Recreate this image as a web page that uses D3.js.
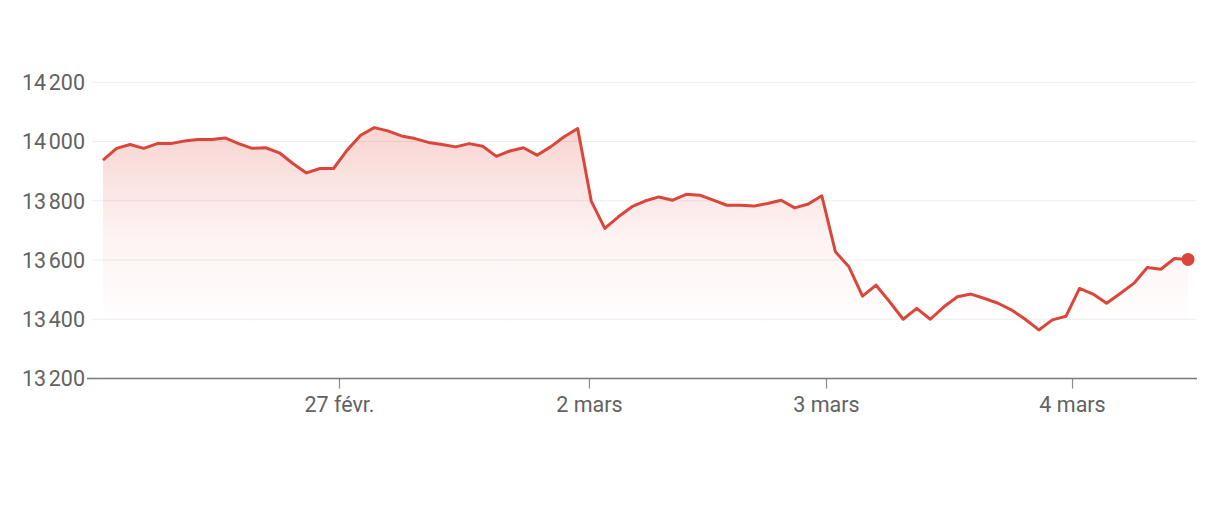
<!DOCTYPE html>
<html>
<head>
<meta charset="utf-8">
<script src="https://cdn.jsdelivr.net/npm/d3@7"></script>
<style>
  html, body { margin: 0; padding: 0; background: #fff; }
  svg { display: block; }
  text { font-family: Roboto, "Noto Sans", sans-serif; }
</style>
</head>
<body>
<svg id="chart" width="1225" height="517"></svg>
<script>
// Price series (one value per sample point)
const values = [
  13937, 13977, 13990, 13977, 13993, 13993, 14002, 14007, 14007, 14012,
  13993, 13977, 13979, 13962, 13926, 13894, 13909, 13909, 13971, 14021,
  14047, 14036, 14019, 14010, 13997, 13990, 13982, 13993, 13984, 13950,
  13968, 13979, 13954, 13982, 14016, 14044, 13799, 13707, 13746, 13780,
  13800, 13813, 13802, 13822, 13819, 13802, 13785, 13785, 13782, 13791,
  13802, 13776, 13789, 13817, 13628, 13577, 13478, 13515, 13459, 13400,
  13437, 13400, 13442, 13476, 13485, 13470, 13454, 13431, 13400, 13364,
  13398, 13410, 13504, 13485, 13454, 13487, 13521, 13575, 13569, 13605,
  13602
];
// Y axis
const yTicks = [13200, 13400, 13600, 13800, 14000, 14200];
const yDomain = [13200, 14200];
// X axis day boundaries (position in sample index) and labels
const xTickPos = [17.4, 35.83, 53.31, 71.45];
const xTickLabels = ["27 févr.", "2 mars", "3 mars", "4 mars"];

const svg = d3.select("#chart");
const lineColor = "#da463a";

const x = d3.scaleLinear().domain([0, values.length - 1]).range([103, 1188]);
const y = d3.scaleLinear().domain(yDomain).range([378.5, 82.3]);

const fmt = v => d3.format(",")(v).replace(",", "\u202F");

// gridlines
svg.append("g")
  .selectAll("line")
  .data(yTicks.filter(t => t !== yDomain[0]))
  .join("line")
  .attr("x1", 92).attr("x2", 1196)
  .attr("y1", d => y(d)).attr("y2", d => y(d))
  .attr("stroke", "#eeeeee").attr("stroke-width", 1);

// gradient
const defs = svg.append("defs");
const grad = defs.append("linearGradient")
  .attr("id", "fillGrad")
  .attr("gradientUnits", "userSpaceOnUse")
  .attr("x1", 0).attr("x2", 0)
  .attr("y1", y(14060)).attr("y2", y(13370));
grad.append("stop").attr("offset", 0).attr("stop-color", "#e2574a").attr("stop-opacity", 0.26);
grad.append("stop").attr("offset", 0.55).attr("stop-color", "#e2574a").attr("stop-opacity", 0.07);
grad.append("stop").attr("offset", 1).attr("stop-color", "#e2574a").attr("stop-opacity", 0);

const idx = d3.range(values.length);

svg.append("path")
  .datum(idx)
  .attr("fill", "url(#fillGrad)")
  .attr("d", d3.area().x(i => x(i)).y0(y(yDomain[0])).y1(i => y(values[i])));

// y labels
svg.append("g")
  .selectAll("text")
  .data(yTicks)
  .join("text")
  .attr("x", 85)
  .attr("y", d => y(d))
  .attr("dy", "0.36em")
  .attr("text-anchor", "end")
  .attr("font-size", 21.5)
  .attr("fill", "#626262")
  .text(fmt);

// x axis
const xAxis = d3.axisBottom(x)
  .tickValues(xTickPos)
  .tickFormat((d, i) => xTickLabels[i])
  .tickSize(10)
  .tickPadding(8);
const gx = svg.append("g")
  .attr("transform", `translate(0,${y(yDomain[0])})`)
  .call(xAxis);
gx.select(".domain").remove();
gx.selectAll(".tick line").attr("stroke", "#8a8a8a").attr("stroke-width", 1.2);
gx.selectAll(".tick text")
  .attr("font-size", 21.5)
  .attr("font-family", "Roboto, 'Noto Sans', sans-serif")
  .attr("fill", "#626262");
gx.append("line")
  .attr("x1", 87).attr("x2", 1197)
  .attr("y1", 0).attr("y2", 0)
  .attr("stroke", "#7a7a7a").attr("stroke-width", 1.6);

// line
svg.append("path")
  .datum(idx)
  .attr("fill", "none")
  .attr("stroke", lineColor)
  .attr("stroke-width", 3)
  .attr("stroke-linejoin", "round")
  .attr("d", d3.line().x(i => x(i)).y(i => y(values[i])));

// end dot
const last = values.length - 1;
svg.append("circle")
  .attr("cx", x(last)).attr("cy", y(values[last]))
  .attr("r", 6.5)
  .attr("fill", lineColor);
</script>
</body>
</html>
